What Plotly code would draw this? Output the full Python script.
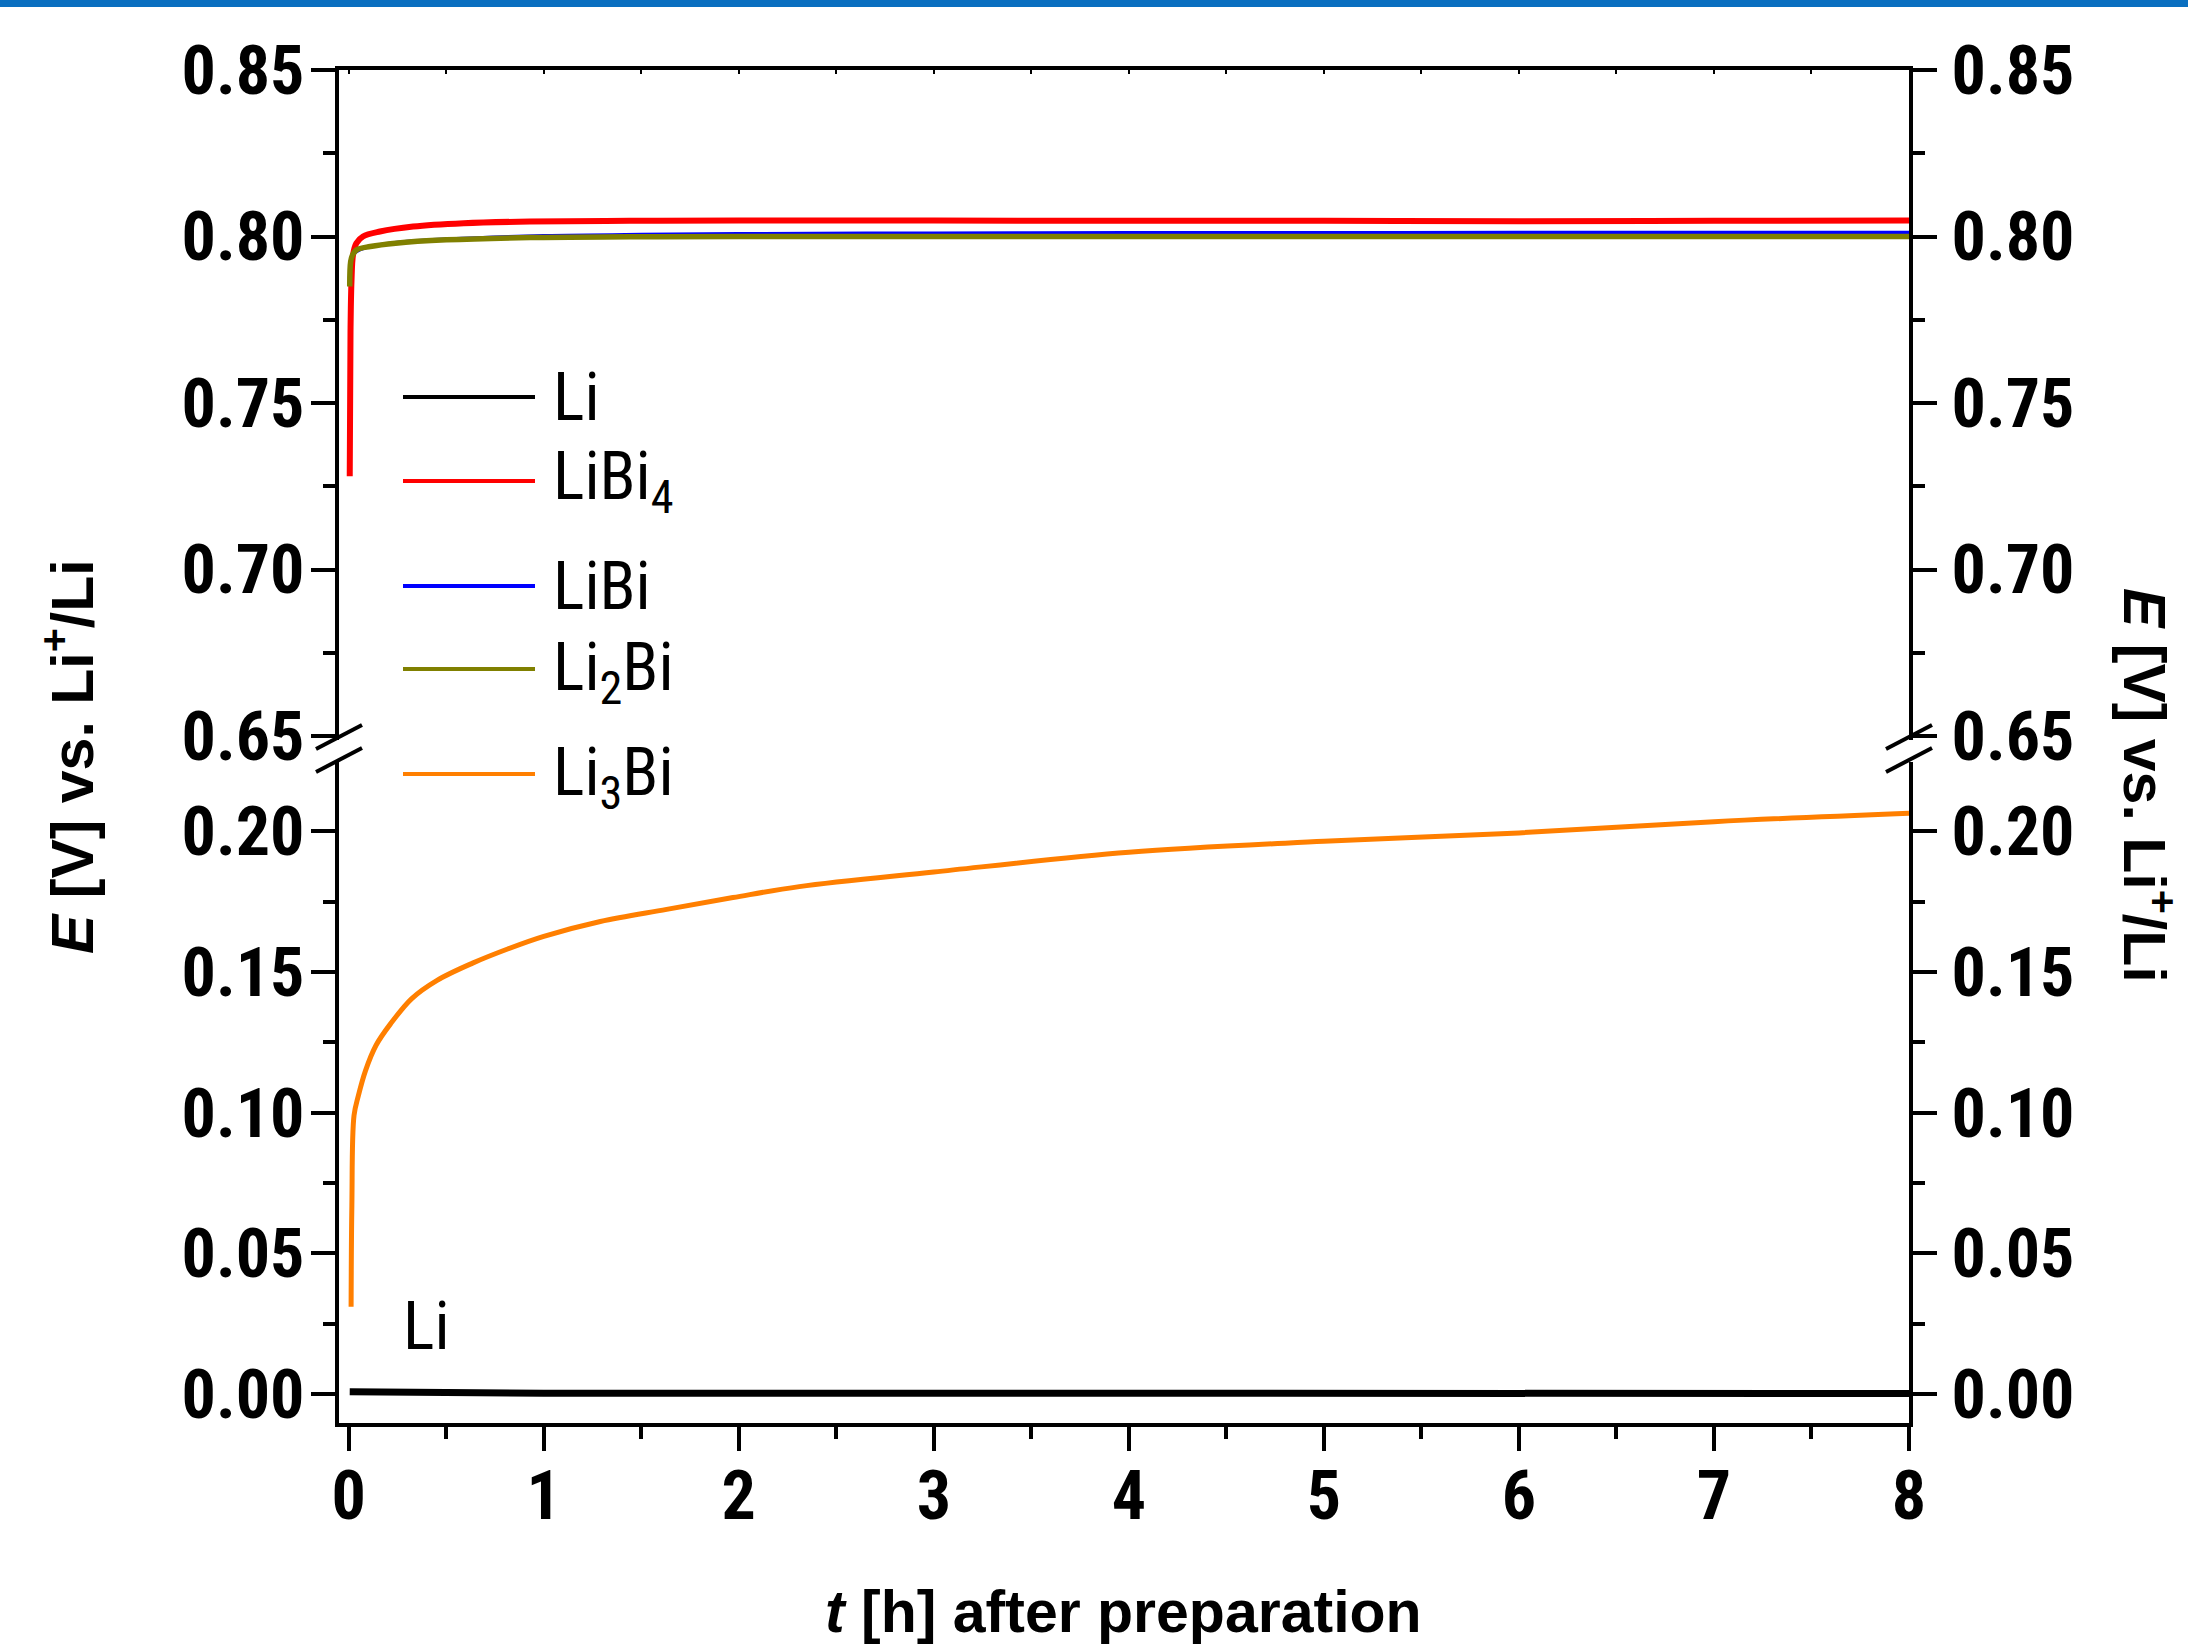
import plotly.graph_objects as go

# ---------------- data ----------------
t_li = [0.005, 0.5, 1, 2, 3, 4, 5, 6, 7, 8]
e_li = [0.0008, 0.0004, 0.0003, 0.0003, 0.0002, 0.0002, 0.0002, 0.0002, 0.0002, 0.0002]

t_libi4 = [0.005, 0.009, 0.014, 0.022, 0.039, 0.073, 0.16, 0.33, 0.59, 0.93, 1.44, 2.0, 3.0, 4.0, 5.0, 6.0, 7.0, 8.0]
e_libi4 = [0.728, 0.7715, 0.7865, 0.7945, 0.798, 0.800, 0.8015, 0.803, 0.804, 0.8045, 0.8047, 0.8048,
           0.8048, 0.8047, 0.8047, 0.8046, 0.8047, 0.8048]

t_libi = [0.005, 0.01, 0.02, 0.04, 0.08, 0.16, 0.3, 0.5, 1.0, 1.5, 2.0, 3.0, 4.0, 5.0, 6.0, 7.0, 8.0]
e_libi = [0.788, 0.7925, 0.7945, 0.7955, 0.7965, 0.7975, 0.7985, 0.7992, 0.8002, 0.8006, 0.8008, 0.8010,
          0.8011, 0.8011, 0.8012, 0.8012, 0.8012]

t_li2bi = [0.005, 0.01, 0.02, 0.04, 0.11, 0.24, 0.5, 0.93, 1.44, 2.0, 3.0, 4.0, 5.0, 6.0, 7.0, 8.0]
e_li2bi = [0.785, 0.7925, 0.7945, 0.796, 0.797, 0.798, 0.799, 0.7997, 0.7999, 0.8, 0.8, 0.8, 0.8, 0.8, 0.8, 0.8]

t_li3bi = [0.012, 0.016, 0.027, 0.049, 0.086, 0.14, 0.214, 0.323, 0.451, 0.635, 0.818, 1.0, 1.29, 1.63,
           1.97, 2.31, 3.0, 4.0, 5.0, 6.0, 7.0, 8.0]
e_li3bi = [0.031, 0.067, 0.099, 0.106, 0.115, 0.124, 0.1316, 0.1406, 0.147, 0.1532, 0.1583, 0.1627, 0.168,
           0.1723, 0.1765, 0.1804, 0.1856, 0.1926, 0.1965, 0.1995, 0.2035, 0.2065]

series_names = ["Li", "LiBi<sub>4</sub>", "LiBi", "Li<sub>2</sub>Bi", "Li<sub>3</sub>Bi"]
series_colors = ["#000000", "#FF0000", "#0000FF", "#808000", "#FF7F00"]

x_range = [-0.05, 8]
y_low_range = [-0.0103, 0.2247]
y_up_range = [0.6488, 0.85]

# ---------------- figure ----------------
W, H = 2188, 1646
L, R, T, B = 339, 279, 70, 223
PW, PH = W - L - R, H - T - B


def px(xp):  # figure pixel x -> paper x
    return (xp - L) / PW


def py(yp):  # figure pixel y -> paper y
    return (H - B - yp) / PH


NARROW = "Liberation Sans Narrow, Arial Narrow, Roboto Condensed, Liberation Sans, sans-serif"
WIDE = "Liberation Sans, Arial, sans-serif"

fig = go.Figure()
fig.add_trace(go.Scatter(x=t_li, y=e_li, mode="lines", name=series_names[0],
                         line=dict(color=series_colors[0], width=7), xaxis="x", yaxis="y"))
fig.add_trace(go.Scatter(x=t_libi4, y=e_libi4, mode="lines", name=series_names[1],
                         line=dict(color=series_colors[1], width=6, shape="spline"), xaxis="x2", yaxis="y2"))
fig.add_trace(go.Scatter(x=t_libi, y=e_libi, mode="lines", name=series_names[2],
                         line=dict(color=series_colors[2], width=3.5, shape="spline"), xaxis="x2", yaxis="y2"))
fig.add_trace(go.Scatter(x=t_li2bi, y=e_li2bi, mode="lines", name=series_names[3],
                         line=dict(color=series_colors[3], width=5.5, shape="spline"), xaxis="x2", yaxis="y2"))
fig.add_trace(go.Scatter(x=t_li3bi, y=e_li3bi, mode="lines", name=series_names[4],
                         line=dict(color=series_colors[4], width=5, shape="spline"), xaxis="x", yaxis="y"))

# invisible helper traces so that the right-hand (mirror) axes are drawn
fig.add_trace(go.Scatter(x=x_range, y=y_low_range, mode="lines", line=dict(color="rgba(0,0,0,0)", width=0),
                         hoverinfo="skip", showlegend=False, xaxis="x", yaxis="y3"))
fig.add_trace(go.Scatter(x=x_range, y=y_up_range, mode="lines", line=dict(color="rgba(0,0,0,0)", width=0),
                         hoverinfo="skip", showlegend=False, xaxis="x2", yaxis="y4"))

tickfont = dict(family=NARROW, size=68, color="black", weight="bold")
ax_common = dict(showline=True, linewidth=4, linecolor="black", showgrid=False, zeroline=False,
                 ticks="outside", ticklen=24, tickwidth=4, tickcolor="black", tickfont=tickfont)
minor_y = dict(dtick=0.025, ticks="outside", ticklen=12, tickwidth=4, tickcolor="black")

low_dom = [0, py(762)]
up_dom = [py(740), 1]

fig.update_layout(
    width=W, height=H,
    margin=dict(l=L, r=R, t=T, b=B),
    paper_bgcolor="white", plot_bgcolor="white",
    showlegend=False,
    xaxis=dict(domain=[0, 1], anchor="y", range=x_range, dtick=1, tick0=0,
               minor=dict(dtick=0.5, ticks="outside", ticklen=12, tickwidth=4, tickcolor="black"),
               ticklabelstandoff=-14, **ax_common),
    xaxis2=dict(domain=[0, 1], anchor="y2", side="top", range=x_range, showline=True, linewidth=4,
                linecolor="black", showgrid=False, zeroline=False, showticklabels=False,
                ticks="inside", ticklen=4, tickwidth=2, dtick=0.5, tickcolor="black"),
    yaxis=dict(domain=low_dom, anchor="x", range=y_low_range, dtick=0.05, tick0=0, tickformat=".2f",
               minor=minor_y, ticklabelstandoff=-7, **ax_common),
    yaxis2=dict(domain=up_dom, anchor="x2", range=y_up_range, dtick=0.05, tick0=0, tickformat=".2f",
                minor=minor_y, ticklabelstandoff=-7, **ax_common),
    yaxis3=dict(overlaying="y", side="right", anchor="x", range=y_low_range, dtick=0.05, tick0=0,
                tickformat=".2f", minor=minor_y, ticklabelstandoff=1, **ax_common),
    yaxis4=dict(overlaying="y2", side="right", anchor="x2", range=y_up_range, dtick=0.05, tick0=0,
                tickformat=".2f", minor=minor_y, ticklabelstandoff=1, **ax_common),
)

shapes = []
# top blue bar
shapes.append(dict(type="rect", xref="paper", yref="paper", x0=px(0), x1=px(W), y0=py(7), y1=py(-2),
                   fillcolor="#0A6FC0", line=dict(width=0), layer="above"))
# axis-break slashes
for xc in (L, W - R):
    for yc in (737, 760):
        shapes.append(dict(type="line", xref="paper", yref="paper",
                           x0=px(xc - 23), y0=py(yc + 12), x1=px(xc + 23), y1=py(yc - 12),
                           line=dict(color="black", width=4)))

annotations = []
legend_y = [397, 481, 586, 669, 774]
for name, col, yc in zip(series_names, series_colors, legend_y):
    shapes.append(dict(type="line", xref="paper", yref="paper", x0=px(403), x1=px(535),
                       y0=py(yc), y1=py(yc), line=dict(color=col, width=4)))
    shift = 0 if name == "LiBi<sub>4</sub>" else (-3 if "<sub>" in name else 0)
    annotations.append(dict(xref="paper", yref="paper", x=px(551), y=py(yc), xanchor="left",
                            yanchor="middle", text=name, showarrow=False, yshift=shift,
                            font=dict(family=NARROW, size=66, color="black")))

annotations.append(dict(xref="paper", yref="paper", x=px(401), y=py(1326), xanchor="left", yanchor="middle",
                        text="Li", showarrow=False, font=dict(family=NARROW, size=66, color="black")))

title_font = dict(family=WIDE, size=59, color="black", weight="bold")
annotations.append(dict(xref="paper", yref="paper", x=px(68), y=py(757), xanchor="center", yanchor="middle",
                        text="<i>E</i> [V] vs. Li<sup>+</sup>/Li", textangle=-90, showarrow=False,
                        font=title_font))
annotations.append(dict(xref="paper", yref="paper", x=px(2149), y=py(785), xanchor="center", yanchor="middle",
                        text="<i>E</i> [V] vs. Li<sup>+</sup>/Li", textangle=90, showarrow=False,
                        font=title_font))
annotations.append(dict(xref="paper", yref="paper", x=px(1123), y=py(1612), xanchor="center", yanchor="middle",
                        text="<i>t</i> [h] after preparation", showarrow=False, font=title_font))

fig.update_layout(shapes=shapes, annotations=annotations)

fig.write_html("out.html")
